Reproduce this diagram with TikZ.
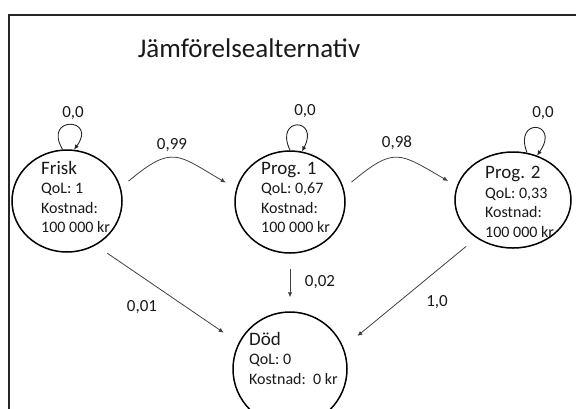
\documentclass[tikz,border=0pt]{standalone}
\usepackage{fontspec}
\setmainfont{Carlito}
\usetikzlibrary{shapes.geometric,arrows.meta}

\tikzset{
  state/.style={draw=black, line width=1.5pt, ellipse, inner sep=0pt},
  statetext/.style={anchor=north west, inner sep=0pt, align=left, text=black!90,
    font=\fontsize{16}{19.5}\selectfont},
  conn/.style={draw=black!75, line width=0.8pt, -{Latex[length=5pt,width=4.5pt]}},
  loopconn/.style={draw=black!85, line width=0.9pt, -{Latex[length=5pt,width=4.5pt]}},
  prob/.style={inner sep=0pt, text=black!90, font=\fontsize{17}{20}\selectfont},
}

\newcommand{\headline}[1]{{\fontsize{19}{22}\selectfont #1}}

\begin{document}
\begin{tikzpicture}[x=1pt, y=-1pt]
  \useasboundingbox (0,0) rectangle (576,408);
  % frame, running off the right and bottom edges
  \draw[black!85, line width=2pt] (590,15) -- (9,15) -- (9,420);

  % title
  \node[anchor=base, inner sep=0pt, text=black!90, font=\fontsize{27}{32}\selectfont]
    (title) at (249,57) {Jämförelsealternativ};

  % states
  \node[state, minimum width=110pt, minimum height=102pt] (f)  at (67,201)  {};
  \node[state, minimum width=110pt, minimum height=102pt] (p1) at (290,202) {};
  \node[state, minimum width=116pt, minimum height=96pt]  (p2) at (513,200) {};
  \node[state, minimum width=114pt, minimum height=114pt] (d)  at (290,369) {};

  \node[statetext] (ft)  at (41,161)  {\headline{Frisk}\\QoL: 1\\Kostnad:\\100 000 kr};
  \node[statetext] (p1t) at (261,162) {\headline{Prog. 1}\\QoL: 0,67\\Kostnad:\\100 000 kr};
  \node[statetext] (p2t) at (485,166) {\headline{Prog. 2}\\QoL: 0,33\\Kostnad:\\100 000 kr};
  \node[statetext] (dt)  at (249,332) {\headline{Död}\\QoL: 0\\Kostnad:\ \ 0 kr};

  % self loops, sitting on top of each state
  \draw[loopconn] ([xshift=-4.5pt]f.north)
    .. controls +(-20,-34) and +(24,-32) .. ([xshift=7pt,yshift=-0.4pt]f.north);
  \draw[loopconn] (p1.north)
    .. controls +(-16,-34) and +(18,-34) .. ([xshift=12pt,yshift=-1.2pt]p1.north);
  \draw[loopconn] ([xshift=14pt,yshift=-1.4pt]p2.north)
    .. controls +(-14,-36) and +(24,-34) .. ([xshift=24pt,yshift=-4.3pt]p2.north);
  \node[prob] (lf)  at (73,113)  {0,0};
  \node[prob] (lp1) at (305,111) {0,0};
  \node[prob] (lp2) at (543,113) {0,0};

  % transitions
  \draw[conn, shorten <=10pt, shorten >=12pt] (f.14)  to[out=40, in=150, looseness=1.5] (p1.166);
  \draw[conn, shorten <=10pt, shorten >=10pt] (p1.14) to[out=40, in=150, looseness=1.5] (p2.166);
  \draw[conn, shorten <=14pt, shorten >=18pt] (f.-57.5) -- (d.153.3);
  \draw[conn, shorten <=13pt, shorten >=18pt] (p2.226.4) -- (d.22.1);
  \draw[conn, shorten <=15pt, shorten >=14pt] (p1.south) -- (d.north);

  \node[prob] (l099) at (172,145) {0,99};
  \node[prob] (l098) at (397,143) {0,98};
  \node[prob] (l001) at (142,307) {0,01};
  \node[prob] (l10)  at (437,302) {1,0};
  \node[prob] (l002) at (320,282) {0,02};
\end{tikzpicture}
\end{document}
